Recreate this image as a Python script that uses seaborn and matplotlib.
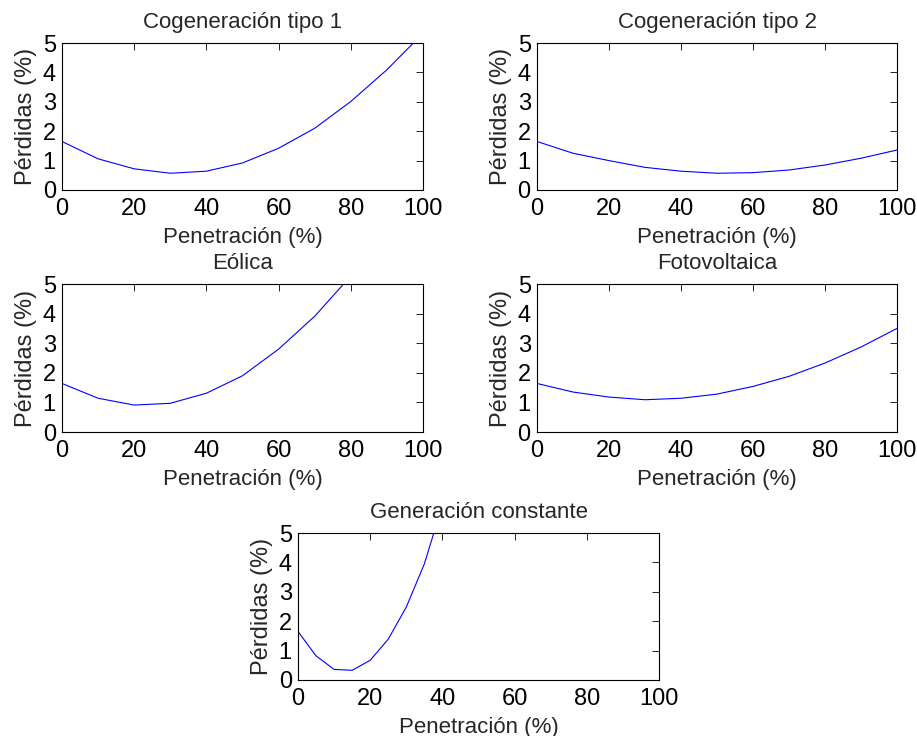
import matplotlib
matplotlib.use("Agg")
import matplotlib.pyplot as plt
import seaborn as sns
import pandas as pd

# Data
x_10 = [0, 10, 20, 30, 40, 50, 60, 70, 80, 90, 100]
cog1 = [1.65, 1.06, 0.72, 0.57, 0.64, 0.92, 1.42, 2.10, 3.01, 4.09, 5.33]
cog2 = [1.65, 1.25, 1.00, 0.77, 0.64, 0.57, 0.59, 0.68, 0.85, 1.08, 1.36]
eolica_x = [0, 10, 20, 30, 40, 50, 60, 70, 80]
eolica = [1.64, 1.14, 0.91, 0.97, 1.31, 1.90, 2.80, 3.91, 5.27]
foto = [1.64, 1.35, 1.18, 1.09, 1.14, 1.28, 1.54, 1.88, 2.33, 2.87, 3.50]
const_x = [0, 5, 10, 15, 20, 25, 30, 35, 40]
const = [1.65, 0.82, 0.36, 0.33, 0.67, 1.39, 2.48, 3.95, 5.95]

titles = ["Cogeneración tipo 1", "Cogeneración tipo 2", "Eólica",
          "Fotovoltaica", "Generación constante"]
xlabel = "Penetración (%)"
ylabel = "Pérdidas (%)"
xticks = [0, 20, 40, 60, 80, 100]
yticks = [0, 1, 2, 3, 4, 5]

sns.set_style("white")
plt.rcParams['font.family'] = ['Liberation Sans', 'DejaVu Sans']
plt.rcParams['xtick.direction'] = 'in'
plt.rcParams['ytick.direction'] = 'in'

W, H = 917, 736
fig = plt.figure(figsize=(W / 100, H / 100), dpi=100)

def rect(l, t, r, b):
    return [l / W, 1 - b / H, (r - l) / W, (b - t) / H]

panels = [
    (rect(62, 43, 423, 190), x_10, cog1, titles[0]),
    (rect(537, 43, 897, 190), x_10, cog2, titles[1]),
    (rect(62, 284, 423, 432), eolica_x, eolica, titles[2]),
    (rect(537, 284, 897, 432), x_10, foto, titles[3]),
    (rect(298, 533, 659, 680), const_x, const, titles[4]),
]

fs = 16
tfs = 17
for pos, xs, ys, title in panels:
    ax = fig.add_axes(pos)
    df = pd.DataFrame({"x": xs, "y": ys})
    sns.lineplot(data=df, x="x", y="y", ax=ax, color=(0, 0, 1), linewidth=0.8)
    ax.set_xlim(0, 100)
    ax.set_ylim(0, 5)
    ax.set_xticks(xticks)
    ax.set_yticks(yticks)
    ax.tick_params(axis='both', which='both', direction='in', top=True, right=True,
                   length=5, width=0.6, labelsize=tfs, colors='black')
    ax.tick_params(axis='x', pad=6)
    ax.tick_params(axis='y', pad=4.5)
    for s in ax.spines.values():
        s.set_linewidth(0.8)
        s.set_color('black')
    ax.set_title(title, fontsize=fs, pad=10.5)
    ax.set_xlabel(xlabel, fontsize=fs, labelpad=4.5)
    ax.set_ylabel(ylabel, fontsize=17, labelpad=4)

fig.savefig("out.png", dpi=100)
